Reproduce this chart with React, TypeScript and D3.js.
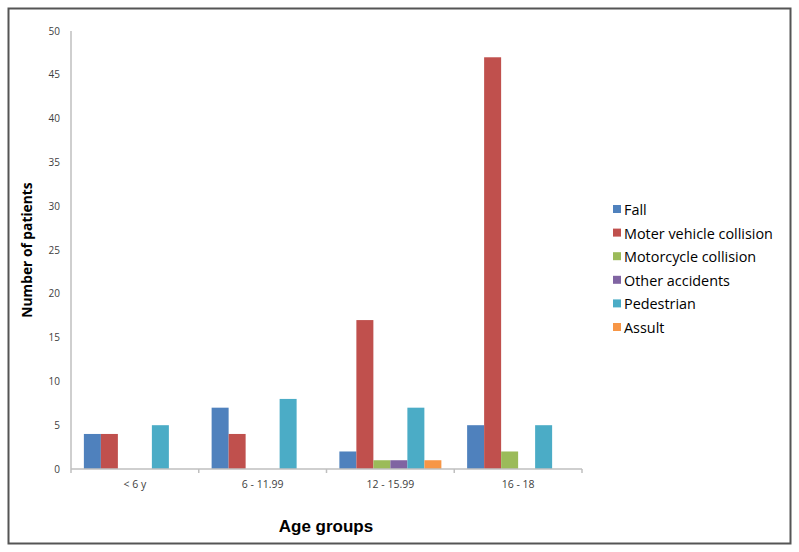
import React from "react";
import * as d3 from "d3";

const categories = ["< 6 y", "6 - 11.99", "12 - 15.99", "16 - 18"];
const seriesNames = [
  "Fall",
  "Moter vehicle collision",
  "Motorcycle collision",
  "Other accidents",
  "Pedestrian",
  "Assult",
];
const fall = [4, 7, 2, 5];
const moterVehicle = [4, 4, 17, 47];
const motorcycle = [0, 0, 1, 2];
const otherAccidents = [0, 0, 1, 0];
const pedestrian = [5, 8, 7, 5];
const assult = [0, 0, 1, 0];
const colors = ["#4F81BD", "#C0504D", "#9BBB59", "#8064A2", "#4BACC6", "#F79646"];
const yTicks = [0, 5, 10, 15, 20, 25, 30, 35, 40, 45, 50];

const seriesValues = [fall, moterVehicle, motorcycle, otherAccidents, pedestrian, assult];

export default function App() {
  const W = 799;
  const H = 552;
  const left = 71;
  const right = 582;
  const top = 31;
  const bottom = 469;

  const x0 = d3.scaleBand<string>().domain(categories).range([left, right]).paddingInner(0.2).paddingOuter(0.1);
  const groupW = (right - left) / categories.length;
  const x = d3.scaleBand<number>().domain(d3.range(seriesNames.length)).range([0, 102]);
  const y = d3.scaleLinear().domain([0, 50]).range([bottom, top]);
  const groupStart = (c: string) => left + categories.indexOf(c) * groupW + (groupW - 102) / 2;

  const axisColor = "#BFBFBF";
  return (
    <svg width={W} height={H} style={{ position: "absolute", left: 0, top: 0 }}>
      <rect x={0} y={0} width={W} height={H} fill="#fff" />
      <rect x={8.5} y={8.5} width={782} height={535} fill="#fff" stroke="#555" strokeWidth={2} />
      {/* bars */}
      {seriesValues.map((vals, si) =>
        vals.map((v, ci) =>
          v > 0 ? (
            <rect
              key={`${si}-${ci}`}
              x={groupStart(categories[ci]) + (x(si) as number)}
              y={y(v)}
              width={x.bandwidth()}
              height={bottom - y(v)}
              fill={colors[si]}
            />
          ) : null
        )
      )}
      {/* y axis */}
      <line x1={left} x2={left} y1={top} y2={bottom} stroke={axisColor} strokeWidth={1.5} />
      {yTicks.map((t) => (
        <text
          key={t}
          x={left - 11}
          y={y(t)}
          dy="0.35em"
          textAnchor="end"
          fontFamily="'Open Sans', sans-serif"
          fontSize={10}
          fill="#404040"
        >
          {t}
        </text>
      ))}
      {/* x axis */}
      <line x1={left} x2={right} y1={bottom} y2={bottom} stroke={axisColor} strokeWidth={1.5} />
      {d3.range(categories.length + 1).map((i) => (
        <line
          key={i}
          x1={left + i * groupW}
          x2={left + i * groupW}
          y1={bottom}
          y2={bottom + 4}
          stroke={axisColor}
          strokeWidth={1.5}
        />
      ))}
      {categories.map((c) => (
        <text
          key={c}
          x={(x0(c) as number) + x0.bandwidth() / 2}
          y={488}
          textAnchor="middle"
          fontFamily="'Open Sans', sans-serif"
          fontSize={10.5}
          fill="#404040"
        >
          {c}
        </text>
      ))}
      {/* axis titles */}
      <text
        x={326}
        y={532}
        textAnchor="middle"
        fontFamily="'Liberation Sans', Arial, sans-serif"
        fontWeight="bold"
        fontSize={17}
        fill="#000"
      >
        Age groups
      </text>
      <text
        transform={`translate(32, ${(top + bottom) / 2}) rotate(-90)`}
        textAnchor="middle"
        fontFamily="'Open Sans', sans-serif"
        fontWeight="bold"
        fontSize={13.8}
        fill="#000"
      >
        Number of patients
      </text>
      {/* legend */}
      {seriesNames.map((s, i) => (
        <g key={s} transform={`translate(613, ${210 + i * 23.6})`}>
          <rect x={0} y={-5} width={8} height={8} fill={colors[i]} />
          <text x={11} y={0} dy="0.35em" fontFamily="'Open Sans', sans-serif" fontSize={14.4} fill="#000">
            {s}
          </text>
        </g>
      ))}
    </svg>
  );
}
